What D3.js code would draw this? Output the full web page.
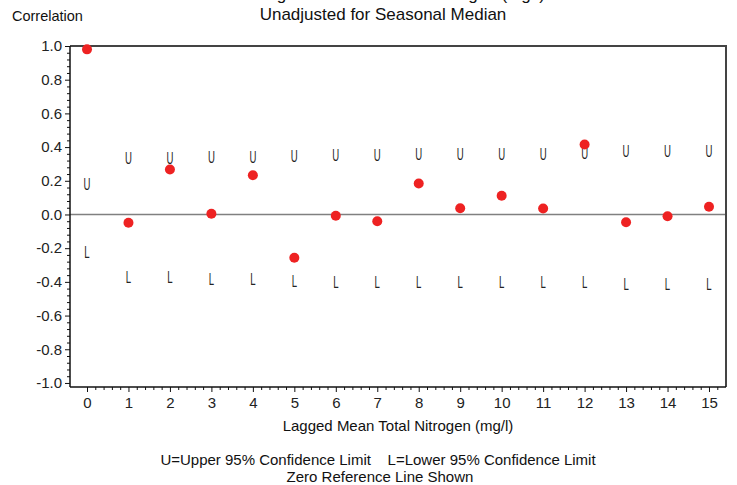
<!DOCTYPE html>
<html><head><meta charset="utf-8">
<script src="https://cdn.jsdelivr.net/npm/d3@7"></script>
<style>
html,body{margin:0;padding:0;background:#fff;}
svg text{font-family:"Liberation Sans",Arial,sans-serif;}
</style></head>
<body>
<script>
const lags = [0,1,2,3,4,5,6,7,8,9,10,11,12,13,14,15];
const correlation = [0.98,-0.049,0.267,0.004,0.233,-0.257,-0.008,-0.040,0.184,0.037,0.111,0.036,0.415,-0.046,-0.010,0.046];
const upper95 = [0.20,0.354,0.356,0.36,0.36,0.37,0.376,0.376,0.38,0.38,0.38,0.38,0.384,0.395,0.395,0.395];
const lower95 = [-0.20,-0.352,-0.352,-0.362,-0.362,-0.372,-0.378,-0.378,-0.378,-0.378,-0.378,-0.378,-0.38,-0.39,-0.39,-0.39];
const yTicks = [-1.0,-0.8,-0.6,-0.4,-0.2,0.0,0.2,0.4,0.6,0.8,1.0];
const titleLines = ["Correlogram for Mean Total Nitrogen (mg/l)","Unadjusted for Seasonal Median"];
const yLabel = "Correlation";
const xLabel = "Lagged Mean Total Nitrogen (mg/l)";
const footnotes = ["U=Upper 95% Confidence Limit    L=Lower 95% Confidence Limit","Zero Reference Line Shown"];

const W = 737, H = 485;
const svg = d3.select("body").append("svg").attr("width",W).attr("height",H);
const L = 70, R = 726, T = 46, B = 387;
const x = d3.scaleLinear().domain([-0.41,15.41]).range([L,R]);
const y = d3.scaleLinear().domain([-1.024,1.0]).range([B,T]);

// titles (first line is cut off at the top edge, as in the reference)
svg.append("text").attr("x",383).attr("y",0).attr("text-anchor","middle").attr("font-size",17).attr("fill","#111").text(titleLines[0]);
svg.append("text").attr("x",383).attr("y",20).attr("text-anchor","middle").attr("font-size",17).attr("fill","#111").text(titleLines[1]);
svg.append("text").attr("x",12).attr("y",21).attr("font-size",14.5).attr("fill","#111").text(yLabel);

// zero reference line
svg.append("line").attr("x1",L).attr("x2",R).attr("y1",y(0)).attr("y2",y(0)).attr("stroke","#808080").attr("stroke-width",1.5);

// frame top/right
svg.append("path").attr("d",`M${L},${T}H${R}V${B}`).attr("fill","none").attr("stroke","#444").attr("stroke-width",2);

const fmtY = v => d3.format(".1f")(v).replace("\u2212","-");

// y axis
const yMinor = d3.range(-1.0,1.0001,0.04).filter(v=>!yTicks.some(t=>Math.abs(t-v)<1e-6));
const yAx = svg.append("g").attr("transform",`translate(${L},0)`);
yAx.call(d3.axisLeft(y).tickValues(yMinor).tickSize(3).tickFormat(""));
yAx.call(g=>g.select(".domain").remove());
const yAx2 = svg.append("g").attr("transform",`translate(${L},0)`);
yAx2.call(d3.axisLeft(y).tickValues(yTicks).tickSize(5).tickPadding(3).tickFormat(fmtY));
yAx2.select(".domain").attr("d",`M0,${T}V${B}`).attr("stroke","#111").attr("stroke-width",1.5);
yAx2.selectAll("text").attr("font-size",15).attr("fill","#222").attr("font-family","Liberation Sans, Arial, sans-serif");

// x axis
const xMinor = d3.range(0,15.3,0.2).filter(v=>Math.abs(v-Math.round(v))>1e-6);
const xAx = svg.append("g").attr("transform",`translate(0,${B})`);
xAx.call(d3.axisBottom(x).tickValues(xMinor).tickSize(3).tickFormat(""));
xAx.call(g=>g.select(".domain").remove());
const xAx2 = svg.append("g").attr("transform",`translate(0,${B})`);
xAx2.call(d3.axisBottom(x).tickValues(lags).tickSize(5).tickPadding(5).tickFormat(d3.format("d")));
xAx2.select(".domain").attr("d",`M${L},0H${R}`).attr("stroke","#111").attr("stroke-width",1.5);
xAx2.selectAll("text").attr("font-size",15).attr("fill","#222").attr("font-family","Liberation Sans, Arial, sans-serif");
svg.selectAll(".tick line").attr("stroke","#111");

svg.append("text").attr("x",(L+R)/2).attr("y",431).attr("text-anchor","middle").attr("font-size",15).attr("fill","#111").text(xLabel);
svg.append("text").attr("x",378).attr("y",465).attr("text-anchor","middle").attr("font-size",15).attr("fill","#111").style("white-space","pre").text(footnotes[0]);
svg.append("text").attr("x",380).attr("y",482).attr("text-anchor","middle").attr("font-size",15).attr("fill","#111").text(footnotes[1]);

// U and L markers
const gU = svg.append("g").attr("opacity",0.99);
lags.forEach((d,i)=>{
  gU.append("text").attr("transform",`translate(${x(d)},${y(upper95[i])+9.5}) scale(0.6,1)`)
    .attr("text-anchor","middle").attr("font-size",16).attr("fill","#222").text("U");
  gU.append("text").attr("transform",`translate(${x(d)},${y(lower95[i])+9.5}) scale(0.6,1)`)
    .attr("text-anchor","middle").attr("font-size",16).attr("fill","#222").text("L");
});

// points
svg.append("g").selectAll("circle").data(lags).join("circle")
  .attr("cx",d=>x(d)).attr("cy",(d,i)=>y(correlation[i])).attr("r",5).attr("fill","#ee2222");
</script>
</body></html>
